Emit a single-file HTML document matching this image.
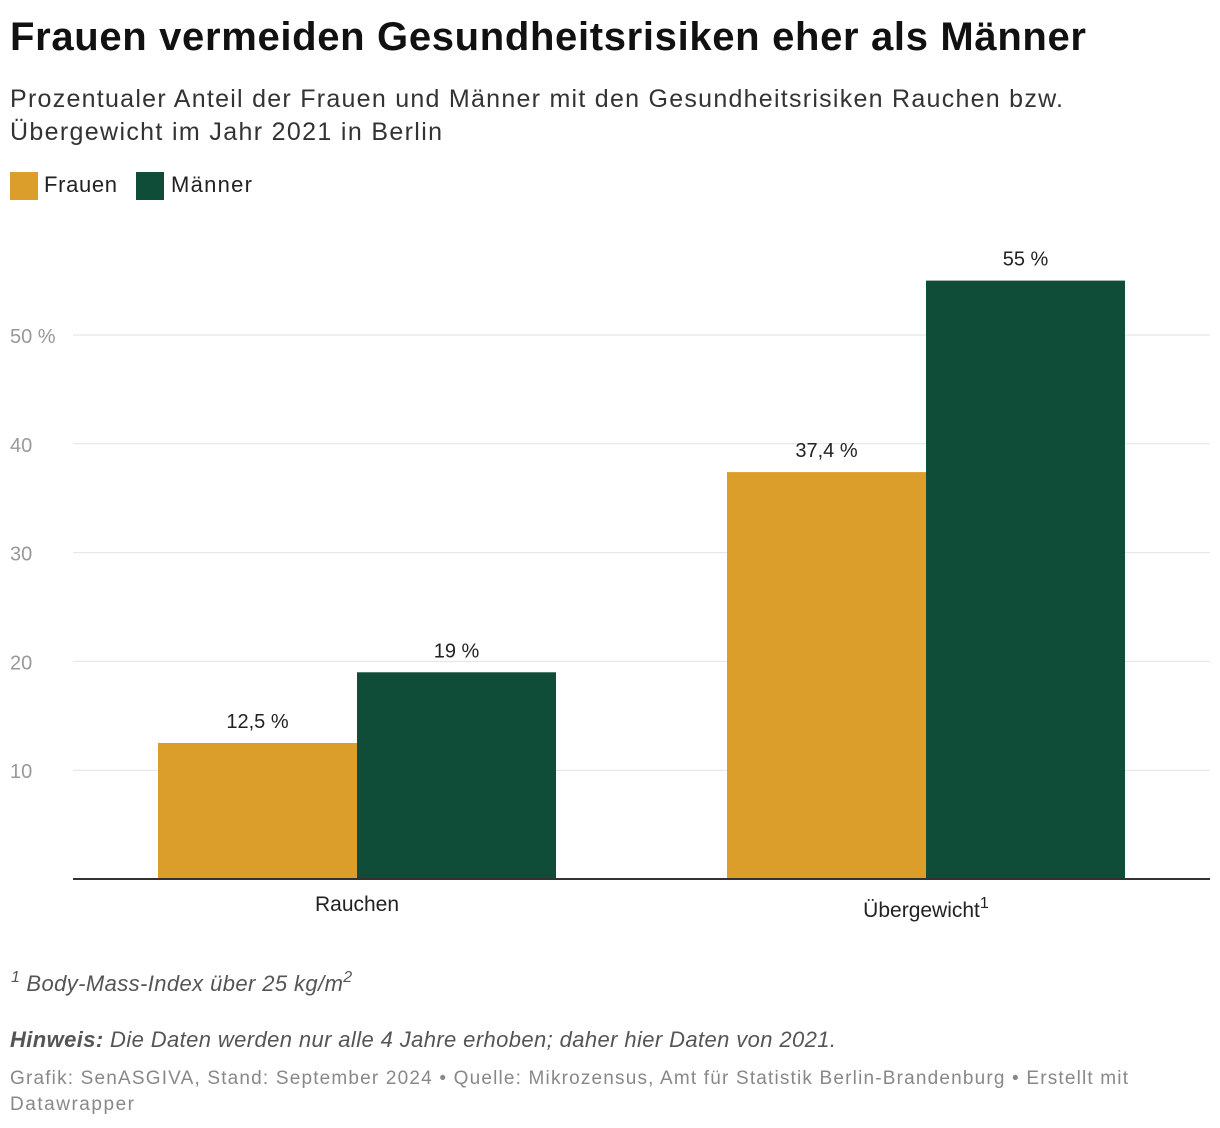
<!DOCTYPE html>
<html><head><meta charset="utf-8"><style>
body{margin:0;background:#fff;width:1220px;height:1128px;overflow:hidden;font-family:"Liberation Sans",sans-serif}
svg{display:block}
</style></head><body>
<svg id="chart" width="1220" height="1128">
<text x="10" y="50" font-size="40" font-weight="bold" fill="#111" textLength="1076">Frauen vermeiden Gesundheitsrisiken eher als Männer</text>
<text x="10" y="107" font-size="25" fill="#333" textLength="1053">Prozentualer Anteil der Frauen und Männer mit den Gesundheitsrisiken Rauchen bzw.</text>
<text x="10" y="140" font-size="25" fill="#333" textLength="432">Übergewicht im Jahr 2021 in Berlin</text>
<g>
<rect x="10" y="172" width="28" height="28" fill="#DB9E2A"/>
<text x="44" y="192" font-size="22" fill="#222" textLength="73">Frauen</text>
<rect x="136" y="172" width="28" height="28" fill="#0F4D38"/>
<text x="171" y="192" font-size="22" fill="#222" textLength="81">Männer</text>
</g>
<g id="grid"></g><g id="bars"></g>
<text x="11" y="991" font-size="22" font-style="italic" fill="#555"><tspan font-size="16" dy="-9">1</tspan><tspan dy="9" textLength="323"> Body-Mass-Index über 25 kg/m</tspan><tspan font-size="16" dy="-9">2</tspan></text>
<text x="10" y="1047" font-size="22" font-style="italic" fill="#555" textLength="826"><tspan font-weight="bold">Hinweis:</tspan> Die Daten werden nur alle 4 Jahre erhoben; daher hier Daten von 2021.</text>
<text x="10" y="1084" font-size="19" fill="#888" textLength="1118">Grafik: SenASGIVA, Stand: September 2024 • Quelle: Mikrozensus, Amt für Statistik Berlin-Brandenburg • Erstellt mit</text>
<text x="10" y="1110" font-size="19" fill="#888" textLength="124">Datawrapper</text>
</svg>
<script>
const categories=["Rauchen","Übergewicht"];
const frauen=[12.5,37.4];
const maenner=[19,55];
const frauenLabels=["12,5 %","37,4 %"];
const maennerLabels=["19 %","55 %"];
const ticks=[10,20,30,40,50];
const tickLabels=["10","20","30","40","50 %"];
const NS="http://www.w3.org/2000/svg";
const y0=879, unit=10.88;
const y=v=>y0-v*unit;
const groupX=[158,727], bw=199;
function mk(tag,attrs,parent,txt){const e=document.createElementNS(NS,tag);for(const k in attrs)e.setAttribute(k,attrs[k]);if(txt!==undefined)e.textContent=txt;parent.appendChild(e);return e;}
const grid=document.getElementById('grid'), bars=document.getElementById('bars');
ticks.forEach((t,i)=>{
 const l=mk('line',{x1:73,x2:1210,y1:y(t),y2:y(t),stroke:'#e2e2e2','stroke-width':1},grid);
 
 
 const tx=mk('text',{x:10,y:y(t)+8,'font-size':20,fill:'#999'},grid,tickLabels[i]);
 
 
});
categories.forEach((c,i)=>{
 const gx=groupX[i];
 const b1=mk('rect',{x:gx,y:y(frauen[i]),width:bw,height:frauen[i]*unit,fill:'#DB9E2A'},bars);
 
 
 const b2=mk('rect',{x:gx+bw,y:y(maenner[i]),width:bw,height:maenner[i]*unit,fill:'#0F4D38'},bars);
 
 
 const l1=mk('text',{x:gx+bw/2,y:y(frauen[i])-15,'font-size':20,fill:'#222','text-anchor':'middle'},bars,frauenLabels[i]);
 
 
 const l2=mk('text',{x:gx+bw*1.5,y:y(maenner[i])-15,'font-size':20,fill:'#222','text-anchor':'middle'},bars,maennerLabels[i]);
 
 
 const cl=mk('text',{x:gx+bw,y:911,'font-size':21,fill:'#222','text-anchor':'middle'},bars,c);
 
 
 if(i===1){cl.setAttribute('y',917);const s=mk('tspan',{'font-size':16,dy:-9},cl,'1');}
});
const ax=mk('line',{x1:73,x2:1210,y1:y0,y2:y0,stroke:'#333','stroke-width':2},bars);


</script>
</body></html>
